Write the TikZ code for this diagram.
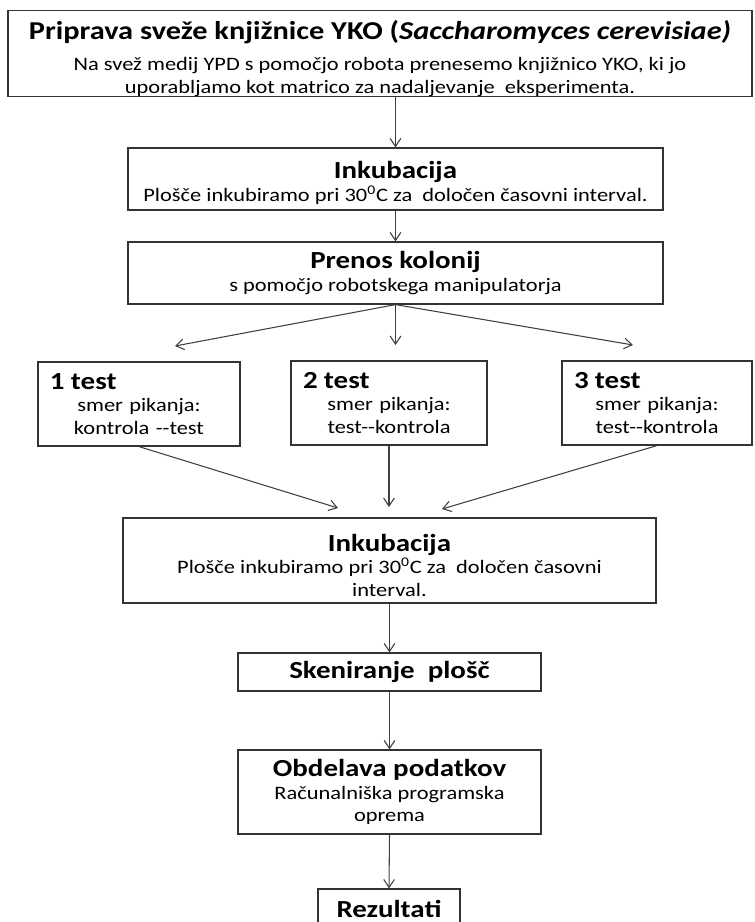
\documentclass[tikz,border=0pt]{standalone}
\usepackage{fontspec}
\setmainfont{Carlito}[FakeStretch = 1.18, Ligatures = TeXOff]
\usetikzlibrary{arrows.meta}
\newcommand{\pxl}{0.75pt}
\newcommand{\bodyfont}{\fontsize{14.25pt}{17pt}\selectfont}
\newcommand{\headfont}{\fontsize{18.4pt}{20pt}\selectfont\bfseries}
\newcommand{\uprule}[1]{\rule{0pt}{#1}}

\begin{document}
\begin{tikzpicture}[x = 0.75pt, y = -0.75pt,
	box/.style = {draw = black!80, line width = 0.9pt, align = center, inner sep = 0pt, font = \bodyfont},
	flow/.style = {draw = black!75, line width = 0.8pt, -{Straight Barb[length = 6pt, width = 8pt]}}]
	\useasboundingbox (0, 0) rectangle (755, 922);
	
	\node[box, minimum width = 744*\pxl, minimum height = 83*\pxl] (priprava) at (380, 53.5)
	{{\fontsize{19.3pt}{21pt}\selectfont\bfseries\uprule{22pt}Priprava sveže knjižnice YKO (\textit{Saccharomyces cerevisiae)}}\\[6.5pt]
	Na svež medij YPD s pomočjo robota prenesemo knjižnico YKO, ki jo\\
	uporabljamo kot matrico za nadaljevanje\ \ eksperimenta.};
	\node[box, minimum width = 535*\pxl, minimum height = 62*\pxl] (inkubA) at (395.5, 179)
	{{\headfont\uprule{19pt}Inkubacija}\\ Plošče inkubiramo pri 30\textsuperscript{0}C za\ \ določen časovni interval.};
	\node[box, minimum width = 535*\pxl, minimum height = 62*\pxl] (prenos) at (395.5, 273)
	{{\headfont Prenos kolonij}\\ s pomočjo robotskega manipulatorja};
	
	\foreach \name/\cx/\cy/\w/\num/\dir in {testA/139/404/202/1/kontrola --test, testB/389/403/196/2/test--kontrola, testC/657/403/190/3/test--kontrola}
	\node[box, minimum width = \w*\pxl, minimum height = 84*\pxl, text width = (\w-24)*\pxl] (\name) at (\cx, \cy)
	{\makebox[\linewidth][l]{\headfont \num\ test}\\ smer pikanja:\\ \dir};
	
	\node[box, minimum width = 533*\pxl, minimum height = 85*\pxl] (inkubB) at (389.5, 560.5)
	{{\headfont\uprule{20pt}Inkubacija}\\ Plošče inkubiramo pri 30\textsuperscript{0}C za\ \ določen časovni\\ interval.};
	\node[box, minimum width = 303*\pxl, minimum height = 38*\pxl] (sken) at (389.5, 672)
	{\headfont Skeniranje\ \ plošč};
	\node[box, minimum width = 303*\pxl, minimum height = 84*\pxl] (obdelava) at (389.5, 792)
	{{\headfont Obdelava podatkov}\\ Računalniška programska\\ oprema};
	\node[box, minimum width = 142*\pxl, minimum height = 40*\pxl] (rez) at (389, 909)
	{\headfont Rezultati};
	
	\coordinate (outA) at (175, 346);
	\coordinate (outB) at (395.5, 345);
	\coordinate (outC) at (633, 345);
	\coordinate (inA) at (338, 508);
	\coordinate (inB) at (389, 507);
	\coordinate (inC) at (442, 509);
	
	\draw[flow] (inkubA.north |- priprava.south) -- (inkubA.north);
	\draw[flow] (inkubA.south) -- (prenos.north);
	\foreach \to in {outA, outB, outC}
	\draw[flow] (prenos.south) -- (\to);
	\foreach \from/\to in {testA/inA, testB/inB, testC/inC}
	\draw[flow] (\from.south) -- (\to);
	\foreach \from/\to in {inkubB/sken, sken/obdelava, obdelava/rez}
	\draw[flow] (\from.south) -- (\to.north);
\end{tikzpicture}
\end{document}
